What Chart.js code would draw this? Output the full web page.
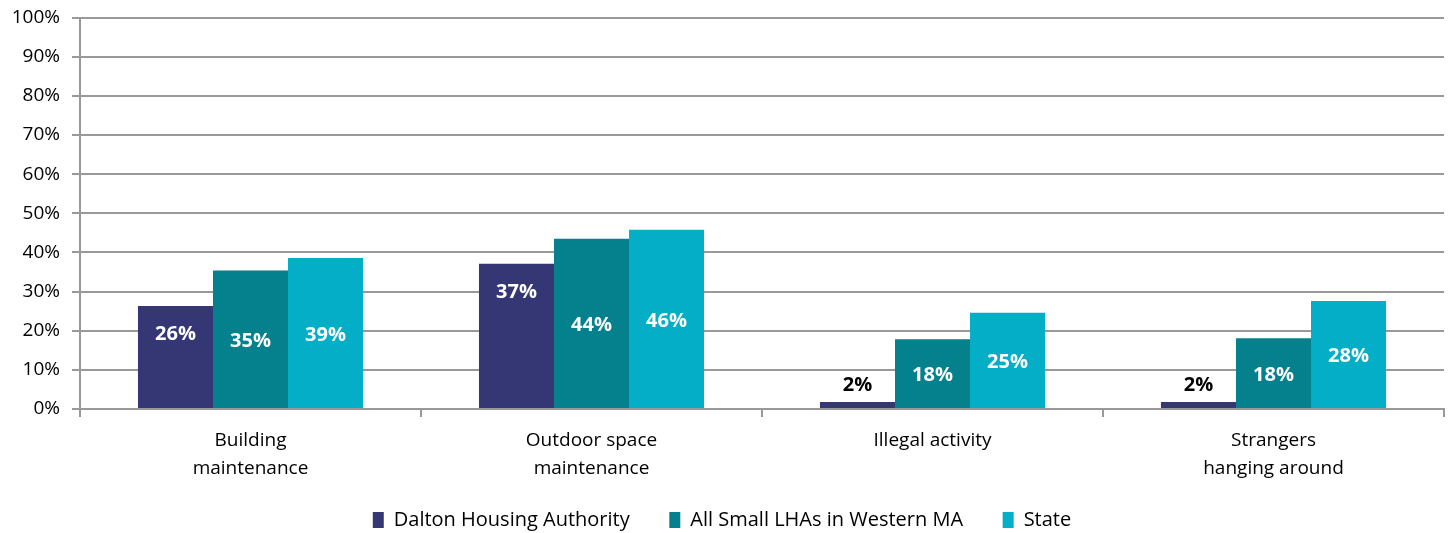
<!DOCTYPE html>
<html>
<head>
<meta charset="utf-8">
<script src="https://cdn.jsdelivr.net/npm/chart.js@4"></script>
<style>
  html, body { margin: 0; padding: 0; background: #fff; }
  #wrap { width: 1452px; height: 533px; }
</style>
</head>
<body>
<div id="wrap"><canvas id="c"></canvas></div>
<script>
// categories (two-line axis labels)
const categories = [
  ['Building', 'maintenance'],
  ['Outdoor space', 'maintenance'],
  ['Illegal activity'],
  ['Strangers', 'hanging around']
];
const seriesNames = ['Dalton Housing Authority', 'All Small LHAs in Western MA', 'State'];
const daltonValues = [26.3, 37.1, 1.8, 1.8];
const smallLhaValues = [35.4, 43.5, 17.8, 18.1];
const stateValues = [38.6, 45.8, 24.6, 27.6];
const yTicks = [0, 10, 20, 30, 40, 50, 60, 70, 80, 90, 100];

const colors = ['#353775', '#05808D', '#04AEC6'];
const FONT = '"Open Sans", "Liberation Sans", sans-serif';

// bar value labels: Dalton at inside end, others centred, tiny bars above
const valueLabels = {
  id: 'valueLabels',
  afterDatasetsDraw(chart) {
    const ctx = chart.ctx;
    ctx.save();
    ctx.font = 'bold 20px ' + FONT;
    ctx.textAlign = 'center';
    ctx.textBaseline = 'middle';
    chart.data.datasets.forEach((ds, i) => {
      chart.getDatasetMeta(i).data.forEach((bar, j) => {
        const v = ds.data[j];
        const txt = Math.round(v) + '%';
        const h = bar.base - bar.y;
        let y;
        if (h < 30) {
          ctx.fillStyle = '#000';
          y = bar.y - 17;
        } else {
          ctx.fillStyle = '#fff';
          y = i === 0 ? bar.y + 28 : (bar.y + bar.base) / 2 + 2;
        }
        ctx.fillText(txt, bar.x, y);
      });
    });
    ctx.restore();
  }
};

new Chart(document.getElementById('c'), {
  type: 'bar',
  data: {
    labels: categories,
    datasets: [daltonValues, smallLhaValues, stateValues].map((d, i) => ({
      label: seriesNames[i],
      data: d,
      backgroundColor: colors[i],
      borderWidth: 0,
      categoryPercentage: 0.66,
      barPercentage: 1
    }))
  },
  options: {
    responsive: true,
    maintainAspectRatio: false,
    animation: false,
    layout: { padding: { top: 1, right: 8, bottom: -7, left: 0 } },
    plugins: {
      tooltip: { enabled: false },
      legend: {
        position: 'bottom',
        labels: {
          font: { family: FONT, size: 20 },
          color: '#000',
          boxWidth: 11,
          boxHeight: 16,
          padding: 24,
          generateLabels(chart) {
            const items = Chart.defaults.plugins.legend.labels.generateLabels(chart);
            items.forEach((it, i) => {
              if (i < items.length - 1) it.text = it.text + '   ';
            });
            return items;
          }
        }
      }
    },
    scales: {
      x: {
        offset: true,
        grid: {
          offset: true,
          drawOnChartArea: false,
          drawTicks: true,
          tickLength: 8,
          color: '#999',
          lineWidth: 2
        },
        border: { color: '#999', width: 2 },
        ticks: {
          font: { family: FONT, size: 19, lineHeight: 1.47 },
          color: '#000',
          padding: 10,
          maxRotation: 0
        },
        afterFit(scale) { scale.height = 77; }
      },
      y: {
        min: 0,
        max: 100,
        afterBuildTicks(scale) { scale.ticks = yTicks.map(v => ({ value: v })); },
        grid: {
          color: '#999',
          lineWidth: 2,
          drawTicks: true,
          tickLength: 8
        },
        border: { color: '#999', width: 2 },
        ticks: {
          font: { family: FONT, size: 19, lineHeight: 0.6 },
          color: '#000',
          padding: 12,
          callback: v => v + '%'
        },
        afterFit(scale) { scale.width = 80; }
      }
    }
  },
  plugins: [valueLabels]
});
</script>
</body>
</html>
